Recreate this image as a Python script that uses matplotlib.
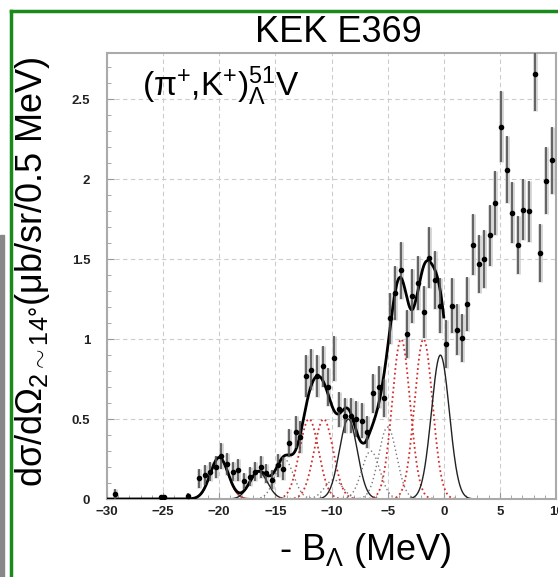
import numpy as np
import matplotlib
matplotlib.use("Agg")
import matplotlib.pyplot as plt
from matplotlib.lines import Line2D
from matplotlib.patches import Rectangle
from matplotlib.ticker import MultipleLocator

plt.rcParams['font.family'] = ['Liberation Sans', 'DejaVu Sans']
plt.rcParams['mathtext.fontset'] = 'custom'
plt.rcParams['mathtext.rm'] = 'Liberation Sans'
plt.rcParams['mathtext.it'] = 'Liberation Sans'
plt.rcParams['mathtext.bf'] = 'Liberation Sans:bold'

# measured spectrum (0.5 MeV bins)
bx = [-29.3, -25.2, -24.9, -22.8, -21.8, -21.3, -20.8, -20.3, -19.8, -19.3,
      -18.8, -18.3, -17.8, -17.3, -16.8, -16.3, -15.8, -15.3, -14.8, -14.3,
      -13.8, -13.2, -12.8, -12.3, -11.8, -11.3, -10.8, -10.3, -9.8, -9.3,
      -8.8, -8.3, -7.8, -7.3, -6.8, -6.3, -5.8, -5.3, -4.8, -4.3,
      -3.8, -3.3, -2.8, -2.3, -1.8, -1.3, -0.8, -0.3, 0.2, 0.7,
      1.2, 1.6, 2.1, 2.6, 3.1, 3.6, 4.1, 4.6, 5.1, 5.6,
      6.1, 6.6, 7.1, 7.6, 8.1, 8.6, 9.1, 9.6]
cs = [0.03, 0.01, 0.01, 0.02, 0.13, 0.15, 0.17, 0.20, 0.27, 0.22,
      0.17, 0.18, 0.11, 0.14, 0.17, 0.20, 0.16, 0.12, 0.21, 0.19,
      0.35, 0.42, 0.39, 0.77, 0.81, 0.77, 0.83, 0.70, 0.88, 0.56,
      0.52, 0.52, 0.50, 0.49, 0.42, 0.66, 0.70, 0.63, 1.13, 1.29,
      1.43, 1.03, 1.27, 1.35, 1.17, 1.51, 1.37, 1.21, 0.97, 1.21,
      1.06, 1.01, 1.22, 1.59, 1.47, 1.50, 1.65, 1.85, 2.33, 2.06,
      1.79, 1.59, 1.81, 1.80, 2.66, 1.54, 1.99, 2.12]
err = [0.03, 0.01, 0.01, 0.02, 0.06, 0.06, 0.06, 0.07, 0.08, 0.07,
       0.06, 0.07, 0.05, 0.06, 0.06, 0.07, 0.06, 0.06, 0.07, 0.07,
       0.09, 0.10, 0.10, 0.13, 0.13, 0.13, 0.13, 0.12, 0.14, 0.11,
       0.11, 0.11, 0.11, 0.11, 0.10, 0.12, 0.13, 0.12, 0.16, 0.17,
       0.18, 0.15, 0.17, 0.17, 0.16, 0.19, 0.18, 0.17, 0.15, 0.17,
       0.16, 0.15, 0.17, 0.19, 0.18, 0.18, 0.19, 0.20, 0.22, 0.21,
       0.19, 0.18, 0.19, 0.19, 0.23, 0.18, 0.21, 0.21]

# fitted peak components: centre (MeV), height, sigma, style
pk_pos = [-20.0, -16.5, -14.2, -12.0, -10.7, -9.8, -8.5, -6.5, -5.0, -3.8, -1.8, -0.3]
pk_amp = [0.26, 0.17, 0.25, 0.50, 0.50, 0.12, 0.50, 0.30, 0.45, 1.00, 1.00, 0.90]
pk_sig = [0.80, 0.80, 0.80, 0.85, 0.85, 0.80, 0.80, 0.80, 0.80, 0.80, 0.80, 0.80]
pk_kind = ['rs', 'ks', 'gd', 'rd', 'rd', 'gd', 'ks', 'gd', 'gd', 'rd', 'rd', 'ks']

# smooth background under the fit
bg_x = [-30, -7, -4, -2.5, 0]
bg_y = [0.0, 0.0, 0.18, 0.27, 0.22]

styles = {
    'rs': dict(color='#a84a4a', lw=1.3, ls='-'),
    'ks': dict(color='#222222', lw=1.0, ls='-'),
    'gd': dict(color='#777777', lw=1.0, ls=(0, (1, 2))),
    'rd': dict(color='#d03030', lw=1.3, ls=(0, (1, 1.6))),
}

fig = plt.figure(figsize=(5.58, 5.77), dpi=100)
ax = fig.add_axes([107 / 558, 78 / 577, 449 / 558, 446 / 577])

xs = np.linspace(-30, 0, 1200)
total = np.interp(xs, bg_x, bg_y)
for c, a, s, k in zip(pk_pos, pk_amp, pk_sig, pk_kind):
    g = a * np.exp(-0.5 * ((xs - c) / s) ** 2)
    total += g
    xx = np.linspace(c - 3.6 * s, c + 3.6 * s, 200)
    ax.plot(xx, a * np.exp(-0.5 * ((xx - c) / s) ** 2), zorder=2, **styles[k])
ax.plot(xs, total, color='black', lw=2.0, zorder=3)

ax.errorbar(bx, cs, yerr=err, fmt='none', ecolor='#d2d2d2', elinewidth=3.4, zorder=1)
ax.errorbar(bx, cs, yerr=err, fmt='o', ms=3, color='black', ecolor='#505050',
            elinewidth=1.2, capsize=0, zorder=4)

ax.set_xlim(-30, 10)
ax.set_ylim(0, 2.79)
ax.xaxis.set_major_locator(MultipleLocator(5))
ax.xaxis.set_minor_locator(MultipleLocator(1))
ax.yaxis.set_major_locator(MultipleLocator(0.5))
ax.yaxis.set_minor_locator(MultipleLocator(0.1))
ax.set_yticks([0, 0.5, 1, 1.5, 2, 2.5])
ax.set_yticklabels(['0', '0.5', '1', '1.5', '2', '2.5'])
ax.grid(True, which='major', color='#cccccc', ls=(0, (4, 3)), lw=0.8)
ax.tick_params(which='both', direction='in', color='#999999', labelsize=9.5,
               labelcolor='#222222')
ax.tick_params(which='major', length=5)
ax.tick_params(which='minor', length=3)
ax.tick_params(axis='y', pad=12)
ax.tick_params(axis='x', pad=5)
for lab in ax.get_xticklabels() + ax.get_yticklabels():
    lab.set_fontweight('bold')
for sp in ax.spines.values():
    sp.set_color('#aaaaaa')
    sp.set_linewidth(1.5)

ax.text(-26.9, 2.52, '(π$^{+}$,K$^{+}$)${}^{51}_{\\Lambda}$V', fontsize=24,
        va='baseline', ha='left')

fig.text(338 / 558, 1 - 33 / 577, 'KEK E369', fontsize=26, ha='center', va='center')
fig.text(33 / 558, 1 - 272 / 577,
         'dσ/dΩ$_{2\\sim14°}$(μb/sr/0.5 MeV)', fontsize=26, rotation=90,
         ha='center', va='center')
fig.text(365 / 558, 1 - 551 / 577, '- B$_{\\Lambda}$ (MeV)', fontsize=26,
         ha='center', va='center')

# green frame and grey strip at the left edge
fig.add_artist(Line2D([11 / 558, 1], [1 - 11 / 577, 1 - 11 / 577],
                      color='#1a8a1a', lw=2.5, transform=fig.transFigure))
fig.add_artist(Line2D([11 / 558, 11 / 558], [0, 1 - 11 / 577],
                      color='#1a8a1a', lw=2.5, transform=fig.transFigure))
fig.add_artist(Rectangle((0, 0), 3.5 / 558, 1 - 235 / 577, color='#888888',
                         transform=fig.transFigure))

fig.savefig('out.png', dpi=100)
